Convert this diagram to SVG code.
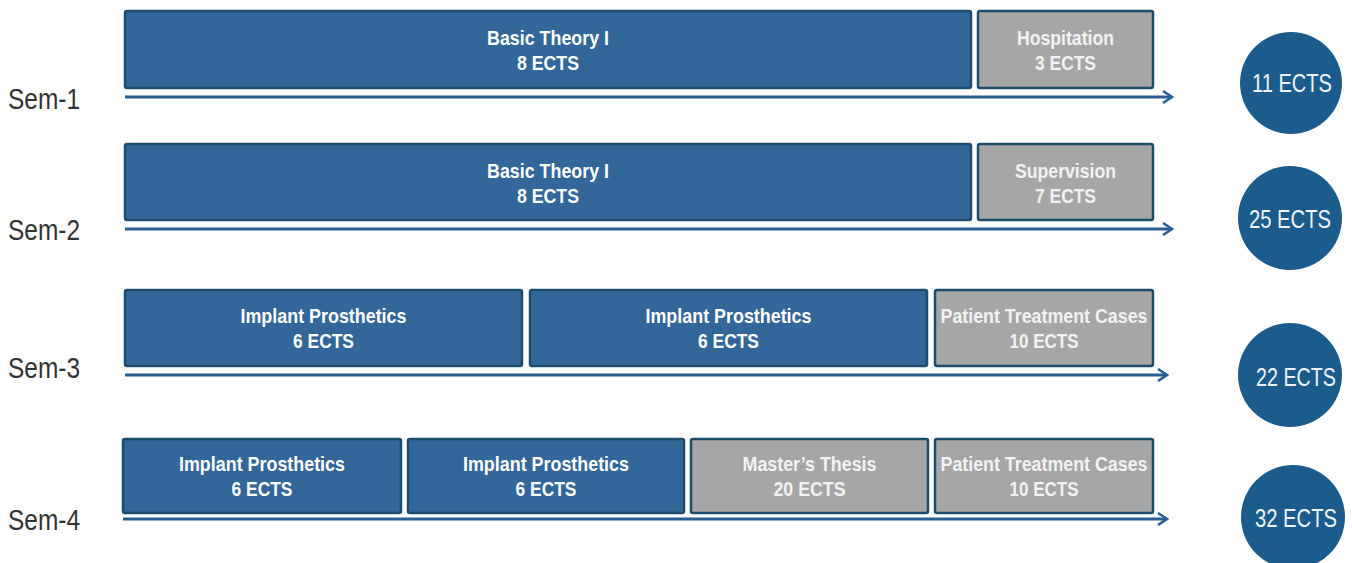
<svg xmlns="http://www.w3.org/2000/svg" width="1352" height="563" viewBox="0 0 1352 563">
<style>
.b{fill:#336699;stroke:#1d4d6e;stroke-width:2.5}
.g{fill:#a6a6a6;stroke:#1d4d6e;stroke-width:2.5}
.t{font-family:"Liberation Sans",Arial,sans-serif;font-weight:bold;font-size:21px;fill:#ffffff;text-anchor:middle}
.gt{fill:#f2f2f2}
.sem{font-family:"Liberation Sans",Arial,sans-serif;font-size:29px;fill:#333333}
.c{fill:#1b5c8c}
.ct{font-family:"Liberation Sans",Arial,sans-serif;font-size:26px;fill:#eef3f8;text-anchor:middle}
.ar{stroke:#2a5f96;stroke-width:3;fill:none}
</style>
<defs>
<marker id="ah" viewBox="0 0 12 14" refX="10" refY="7" markerWidth="12" markerHeight="14" markerUnits="userSpaceOnUse" orient="auto">
<polyline points="1,1 10,7 1,13" fill="none" stroke="#2a5f96" stroke-width="2.5"/>
</marker>
</defs>
<rect width="1352" height="563" fill="#ffffff"/>
<g id="labels">
<text class="sem" x="8" y="109" textLength="72" lengthAdjust="spacingAndGlyphs">Sem-1</text>
<text class="sem" x="8" y="240" textLength="72" lengthAdjust="spacingAndGlyphs">Sem-2</text>
<text class="sem" x="8" y="378" textLength="72" lengthAdjust="spacingAndGlyphs">Sem-3</text>
<text class="sem" x="8" y="530" textLength="72" lengthAdjust="spacingAndGlyphs">Sem-4</text>
</g>
<g id="connectors">
<line class="ar" x1="125" y1="97" x2="1172" y2="97" marker-end="url(#ah)"/>
<line class="ar" x1="125" y1="229" x2="1172" y2="229" marker-end="url(#ah)"/>
<line class="ar" x1="125" y1="375" x2="1167" y2="375" marker-end="url(#ah)"/>
<line class="ar" x1="123" y1="519" x2="1167" y2="519" marker-end="url(#ah)"/>
</g>
<g id="s1-basic"><rect class="b" x="125" y="11" width="846" height="77" rx="2"/>
<text class="t" x="548" y="45" textLength="122" lengthAdjust="spacingAndGlyphs">Basic Theory I</text>
<text class="t" x="548" y="70" textLength="62" lengthAdjust="spacingAndGlyphs">8 ECTS</text></g>
<g id="s1-hosp"><rect class="g" x="978" y="11" width="175" height="77" rx="2"/>
<text class="t gt" x="1065.5" y="45" textLength="97" lengthAdjust="spacingAndGlyphs">Hospitation</text>
<text class="t gt" x="1065.5" y="70" textLength="61" lengthAdjust="spacingAndGlyphs">3 ECTS</text></g>
<g id="s2-basic"><rect class="b" x="125" y="144" width="846" height="76" rx="2"/>
<text class="t" x="548" y="178" textLength="122" lengthAdjust="spacingAndGlyphs">Basic Theory I</text>
<text class="t" x="548" y="203" textLength="62" lengthAdjust="spacingAndGlyphs">8 ECTS</text></g>
<g id="s2-sup"><rect class="g" x="978" y="144" width="175" height="76" rx="2"/>
<text class="t gt" x="1065.5" y="178" textLength="101" lengthAdjust="spacingAndGlyphs">Supervision</text>
<text class="t gt" x="1065.5" y="203" textLength="61" lengthAdjust="spacingAndGlyphs">7 ECTS</text></g>
<g id="s3-ip1"><rect class="b" x="125" y="290" width="397" height="76" rx="2"/>
<text class="t" x="323.5" y="323" textLength="166" lengthAdjust="spacingAndGlyphs">Implant Prosthetics</text>
<text class="t" x="323.5" y="348" textLength="61" lengthAdjust="spacingAndGlyphs">6 ECTS</text></g>
<g id="s3-ip2"><rect class="b" x="530" y="290" width="397" height="76" rx="2"/>
<text class="t" x="728.5" y="323" textLength="166" lengthAdjust="spacingAndGlyphs">Implant Prosthetics</text>
<text class="t" x="728.5" y="348" textLength="61" lengthAdjust="spacingAndGlyphs">6 ECTS</text></g>
<g id="s3-ptc"><rect class="g" x="935" y="290" width="218" height="76" rx="2"/>
<text class="t gt" x="1044" y="323" textLength="207" lengthAdjust="spacingAndGlyphs">Patient Treatment Cases</text>
<text class="t gt" x="1044" y="348" textLength="69" lengthAdjust="spacingAndGlyphs">10 ECTS</text></g>
<g id="s4-ip1"><rect class="b" x="123" y="439" width="278" height="74" rx="2"/>
<text class="t" x="262" y="471" textLength="166" lengthAdjust="spacingAndGlyphs">Implant Prosthetics</text>
<text class="t" x="262" y="496" textLength="61" lengthAdjust="spacingAndGlyphs">6 ECTS</text></g>
<g id="s4-ip2"><rect class="b" x="408" y="439" width="276" height="74" rx="2"/>
<text class="t" x="546" y="471" textLength="166" lengthAdjust="spacingAndGlyphs">Implant Prosthetics</text>
<text class="t" x="546" y="496" textLength="61" lengthAdjust="spacingAndGlyphs">6 ECTS</text></g>
<g id="s4-thesis"><rect class="g" x="691" y="439" width="237" height="74" rx="2"/>
<text class="t gt" x="809.5" y="471" textLength="134" lengthAdjust="spacingAndGlyphs">Master’s Thesis</text>
<text class="t gt" x="809.5" y="496" textLength="72" lengthAdjust="spacingAndGlyphs">20 ECTS</text></g>
<g id="s4-ptc"><rect class="g" x="935" y="439" width="218" height="74" rx="2"/>
<text class="t gt" x="1044" y="471" textLength="207" lengthAdjust="spacingAndGlyphs">Patient Treatment Cases</text>
<text class="t gt" x="1044" y="496" textLength="69" lengthAdjust="spacingAndGlyphs">10 ECTS</text></g>
<g id="total1"><circle class="c" cx="1291" cy="83" r="51"/>
<text class="ct" x="1292" y="92" textLength="80" lengthAdjust="spacingAndGlyphs">11 ECTS</text></g>
<g id="total2"><circle class="c" cx="1290" cy="218" r="52"/>
<text class="ct" x="1290" y="228" textLength="82" lengthAdjust="spacingAndGlyphs">25 ECTS</text></g>
<g id="total3"><circle class="c" cx="1290" cy="375" r="52"/>
<text class="ct" x="1296" y="386" textLength="80" lengthAdjust="spacingAndGlyphs">22 ECTS</text></g>
<g id="total4"><circle class="c" cx="1293" cy="517" r="52"/>
<text class="ct" x="1296" y="527" textLength="82" lengthAdjust="spacingAndGlyphs">32 ECTS</text></g>
</svg>
